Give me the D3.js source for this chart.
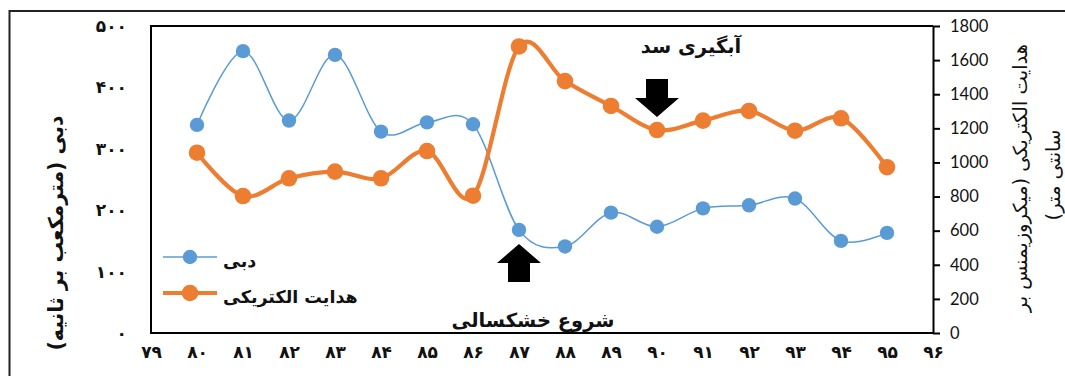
<!DOCTYPE html>
<html>
<head>
<meta charset="utf-8">
<script src="https://cdn.jsdelivr.net/npm/d3@7"></script>
<style>
  html, body { margin: 0; padding: 0; background: #fff; }
  svg { display: block; }
</style>
</head>
<body>
<svg id="chart" width="1065" height="376"></svg>
<script>
// Years (Persian calendar, two-digit)
const years = [80, 81, 82, 83, 84, 85, 86, 87, 88, 89, 90, 91, 92, 93, 94, 95];
// Discharge, m³/s (left axis)
const discharge = [339, 459, 346, 453, 328, 343, 340, 168, 141, 196, 173, 203, 208, 219, 150, 163];
// Electrical conductivity, µS/cm (right axis)
const conductivity = [1057, 803, 907, 946, 907, 1067, 805, 1680, 1477, 1331, 1190, 1245, 1302, 1186, 1259, 972];

const xTicks = [79, 80, 81, 82, 83, 84, 85, 86, 87, 88, 89, 90, 91, 92, 93, 94, 95, 96];
const xTickLabels = ["۷۹", "۸۰", "۸۱", "۸۲", "۸۳", "۸۴", "۸۵", "۸۶", "۸۷", "۸۸", "۸۹", "۹۰", "۹۱", "۹۲", "۹۳", "۹۴", "۹۵", "۹۶"];
const leftTicks = [0, 100, 200, 300, 400, 500];
const leftTickLabels = ["۰", "۱۰۰", "۲۰۰", "۳۰۰", "۴۰۰", "۵۰۰"];
const rightTicks = [0, 200, 400, 600, 800, 1000, 1200, 1400, 1600, 1800];

const seriesNames = ["دبی", "هدایت الکتریکی"];
const leftTitle = "دبی (مترمکعب بر ثانیه)";
const rightTitle = ["هدایت الکتریکی (میکروزیمنس بر", "سانتی متر)"];
const noteDrought = "شروع خشکسالی";
const noteDam = "آبگیری سد";

const blue = "#5B9BD5";
const orange = "#ED7D31";
const faFont = "'DejaVu Sans', sans-serif";
const numFont = "Lato, 'Open Sans', sans-serif";

const svg = d3.select("#chart");

const plot = { left: 151, right: 933, top: 26, bottom: 333 };

const x = d3.scaleLinear().domain([79, 96]).range([plot.left, plot.right]);
const yL = d3.scaleLinear().domain([0, 500]).range([plot.bottom, plot.top]);
const yR = d3.scaleLinear().domain([0, 1800]).range([plot.bottom, plot.top]);

// Outer chart frame (runs off the right and bottom edges)
svg.append("rect")
  .attr("x", 9.5).attr("y", 11).attr("width", 1100).attr("height", 420)
  .attr("fill", "none").attr("stroke", "#222").attr("stroke-width", 2);

// Plot box: left, top, bottom edges
svg.append("path")
  .attr("d", `M${plot.right},${plot.top}H${plot.left}V${plot.bottom}H${plot.right}`)
  .attr("fill", "none").attr("stroke", "#000").attr("stroke-width", 2);

// Right axis with outward ticks
const rAxis = svg.append("g")
  .attr("transform", `translate(${plot.right},0)`)
  .call(d3.axisRight(yR).tickValues(rightTicks).tickSize(7).tickPadding(10).tickSizeOuter(0)
    .tickFormat(d3.format("d")));
rAxis.select(".domain").attr("stroke", "#000").attr("stroke-width", 2);
rAxis.selectAll(".tick line").attr("stroke", "#000").attr("stroke-width", 2);
rAxis.selectAll(".tick text")
  .attr("font-family", numFont).attr("font-size", 16.5).attr("fill", "#111");

// Left axis labels (no ticks drawn)
const lAxis = svg.append("g")
  .attr("transform", `translate(${plot.left},0)`)
  .call(d3.axisLeft(yL).tickValues(leftTicks).tickSize(0).tickPadding(24)
    .tickFormat((d, i) => leftTickLabels[i]));
lAxis.select(".domain").remove();
lAxis.selectAll(".tick text")
  .attr("font-family", faFont).attr("font-weight", "bold").attr("font-size", 17)
  .attr("letter-spacing", 2).attr("fill", "#111");

// Bottom axis labels (no ticks drawn)
const bAxis = svg.append("g")
  .attr("transform", `translate(0,${plot.bottom})`)
  .call(d3.axisBottom(x).tickValues(xTicks).tickSize(0).tickPadding(13)
    .tickFormat((d, i) => xTickLabels[i]));
bAxis.select(".domain").remove();
bAxis.selectAll(".tick text")
  .attr("font-family", faFont).attr("font-weight", "bold").attr("font-size", 17)
  .attr("letter-spacing", 2).attr("fill", "#111");

// Axis titles
svg.append("text")
  .attr("transform", "translate(56,233) rotate(-90)")
  .attr("text-anchor", "middle").attr("dominant-baseline", "central")
  .attr("font-family", faFont).attr("font-weight", "bold").attr("font-size", 20.5)
  .attr("direction", "rtl").attr("fill", "#111")
  .text(leftTitle);

rightTitle.forEach((t, i) => {
  svg.append("text")
    .attr("transform", `translate(${1020 + i * 33},${178 - i * 3}) rotate(-90)`)
    .attr("text-anchor", "middle").attr("dominant-baseline", "central")
    .attr("font-family", faFont).attr("font-size", 19.5)
    .attr("direction", "rtl").attr("fill", "#111")
    .text(t);
});

// Smoothed series
const lineL = d3.line().x((d, i) => x(years[i])).y(d => yL(d)).curve(d3.curveCardinal.tension(0));
const lineR = d3.line().x((d, i) => x(years[i])).y(d => yR(d)).curve(d3.curveCardinal.tension(0));

svg.append("path").datum(discharge)
  .attr("d", lineL).attr("fill", "none").attr("stroke", blue).attr("stroke-width", 1.5);
svg.selectAll("circle.q").data(discharge).join("circle").attr("class", "q")
  .attr("cx", (d, i) => x(years[i])).attr("cy", d => yL(d)).attr("r", 7.2).attr("fill", blue);

svg.append("path").datum(conductivity)
  .attr("d", lineR).attr("fill", "none").attr("stroke", orange).attr("stroke-width", 4.2)
  .attr("stroke-linejoin", "round");
svg.selectAll("circle.ec").data(conductivity).join("circle").attr("class", "ec")
  .attr("cx", (d, i) => x(years[i])).attr("cy", d => yR(d)).attr("r", 8.3).attr("fill", orange);

// Block arrows marking events
function blockArrow(cx, tipY, dir) {
  // dir = -1 points up, +1 points down
  const headH = 19, headW = 22, shaftW = 11, shaftL = 19;
  const baseY = tipY - dir * headH;
  const endY = baseY - dir * shaftL;
  const pts = [
    [cx, tipY], [cx + headW, baseY], [cx + shaftW, baseY], [cx + shaftW, endY],
    [cx - shaftW, endY], [cx - shaftW, baseY], [cx - headW, baseY]
  ];
  svg.append("path").attr("d", "M" + pts.map(p => p.join(",")).join("L") + "Z").attr("fill", "#000");
}
blockArrow(x(87), 244, -1);
blockArrow(x(90), 117, 1);

// Event notes
svg.append("text")
  .attr("x", x(87) + 14).attr("y", 327).attr("text-anchor", "middle")
  .attr("font-family", faFont).attr("font-weight", "bold").attr("font-size", 19.5)
  .attr("direction", "rtl").attr("fill", "#111").text(noteDrought);
svg.append("text")
  .attr("x", x(90) + 34).attr("y", 53).attr("text-anchor", "middle")
  .attr("font-family", faFont).attr("font-weight", "bold").attr("font-size", 19.5)
  .attr("direction", "rtl").attr("fill", "#111").text(noteDam);

// Legend
const legend = svg.append("g");
const legendItems = [
  { name: seriesNames[0], color: blue, w: 1.5, r: 7.2, y: 257 },
  { name: seriesNames[1], color: orange, w: 4.2, r: 8.3, y: 293 }
];
legendItems.forEach(it => {
  legend.append("line").attr("x1", 163).attr("x2", 217).attr("y1", it.y).attr("y2", it.y)
    .attr("stroke", it.color).attr("stroke-width", it.w);
  legend.append("circle").attr("cx", 190).attr("cy", it.y).attr("r", it.r).attr("fill", it.color);
  legend.append("text").attr("x", 223).attr("y", it.y + 10).attr("text-anchor", "start")
    .attr("font-family", faFont).attr("font-weight", "bold").attr("font-size", 17.5)
    .attr("fill", "#111").text(it.name);
});
</script>
</body>
</html>
